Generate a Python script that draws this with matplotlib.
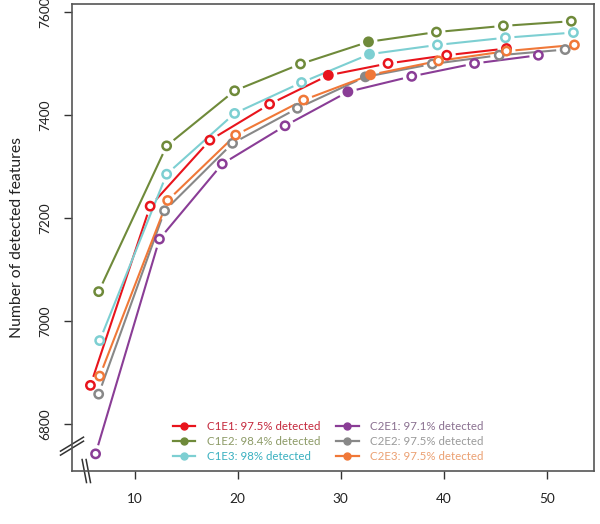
import matplotlib
matplotlib.use("Agg")
import matplotlib.pyplot as plt
from matplotlib.lines import Line2D
from matplotlib.transforms import IdentityTransform
import numpy as np

plt.rcParams['font.family'] = ['Lato', 'DejaVu Sans']

names = ['C1E1', 'C1E2', 'C1E3', 'C2E1', 'C2E2', 'C2E3']
detected = ['97.5%', '98.4%', '98%', '97.1%', '97.5%', '97.5%']

xs = {
    'C1E1': [5.7, 11.5, 17.3, 23.1, 28.8, 34.6, 40.3, 46.1],
    'C1E2': [6.5, 13.1, 19.7, 26.1, 32.7, 39.3, 45.8, 52.4],
    'C1E3': [6.6, 13.1, 19.7, 26.2, 32.8, 39.4, 46.0, 52.6],
    'C2E1': [6.2, 12.4, 18.5, 24.6, 30.7, 36.9, 43.0, 49.2],
    'C2E2': [6.5, 12.9, 19.5, 25.8, 32.4, 38.9, 45.4, 51.8],
    'C2E3': [6.6, 13.2, 19.8, 26.4, 32.9, 39.5, 46.1, 52.7],
}
ys = {
    'C1E1': [6875, 7223, 7351, 7421, 7477, 7500, 7516, 7529],
    'C1E2': [7057, 7340, 7447, 7499, 7542, 7561, 7573, 7582],
    'C1E3': [6962, 7285, 7403, 7463, 7518, 7536, 7550, 7560],
    'C2E1': [6742, 7159, 7305, 7379, 7445, 7475, 7500, 7516],
    'C2E2': [6858, 7214, 7345, 7413, 7474, 7499, 7516, 7527],
    'C2E3': [6893, 7234, 7361, 7429, 7478, 7505, 7524, 7536],
}
filled_idx = 4

line_colors = ['#e8141c', '#6f8a3a', '#7dcfd2', '#8a3d96', '#888888', '#f07838']
text_colors = ['#c4283c', '#8c9a66', '#3ab0c0', '#8a7090', '#9a9a9a', '#eba072']

fig = plt.figure(figsize=(6, 5.24), dpi=100)
ax = fig.add_axes([0.12, 0.1011, 0.87, 0.8913])
ax.set_xlim(3.91, 54.6)
ax.set_ylim(6708.7, 7615.5)

gap = 9.0  # px gap between line segment end and point centre
for name, lc in zip(names, line_colors):
    pts = ax.transData.transform(np.column_stack([xs[name], ys[name]]))
    for p0, p1 in zip(pts[:-1], pts[1:]):
        d = p1 - p0
        L = np.hypot(*d)
        if L <= 2 * gap:
            continue
        u = d / L
        seg = ax.transData.inverted().transform([p0 + u * gap, p1 - u * gap])
        ax.plot(seg[:, 0], seg[:, 1], color=lc, lw=1.5, solid_capstyle='butt')
    face = ['white'] * len(xs[name])
    face[filled_idx] = lc
    ax.scatter(xs[name], ys[name], s=36, facecolors=face, edgecolors=lc,
               linewidths=1.8, zorder=3)

ax.set_xticks([10, 20, 30, 40, 50])
ax.set_yticks([6800, 7000, 7200, 7400, 7600])
ax.tick_params(axis='both', direction='out', length=6, width=1, color='#333333',
               labelsize=9.8, labelcolor='#222222')
ax.tick_params(axis='x', pad=10)
ax.tick_params(axis='y', pad=9)
for lab in ax.get_yticklabels():
    lab.set_rotation(90)
    lab.set_va('center')
for s in ax.spines.values():
    s.set_color('#555555')
    s.set_linewidth(1.2)
ax.set_ylabel('Number of detected features', fontsize=11.3, color='#222222', labelpad=11)

handles = [Line2D([], [], color=c, lw=1.6, marker='o', markersize=5) for c in line_colors]
labels = [f'{n}: {d} detected' for n, d in zip(names, detected)]
leg = ax.legend(handles, labels, ncol=2, frameon=False, loc='lower left',
                bbox_to_anchor=(0.175, 0.0), fontsize=8.3, handlelength=1.95,
                handletextpad=1.0, columnspacing=1.4, labelspacing=0.35, borderpad=0.3)
for t, c in zip(leg.get_texts(), text_colors):
    t.set_color(c)

# axis break marks
ident = IdentityTransform()
yb = ax.transData.transform([(3.91, 6757)])[0]
for off in (2.0, -2.0):
    ax.add_line(Line2D([yb[0] - 11.5, yb[0] + 11.5], [yb[1] + off - 7, yb[1] + off + 7],
                       transform=ident, color='#333333', lw=1.1, clip_on=False))
xb = ax.transData.transform([(5.3, 6708.7)])[0]
for off in (-2.0, 2.0):
    ax.add_line(Line2D([xb[0] + off - 2.2, xb[0] + off + 2.2], [xb[1] + 11.5, xb[1] - 11.5],
                       transform=ident, color='#333333', lw=1.1, clip_on=False))

fig.savefig('out.png', dpi=100)
